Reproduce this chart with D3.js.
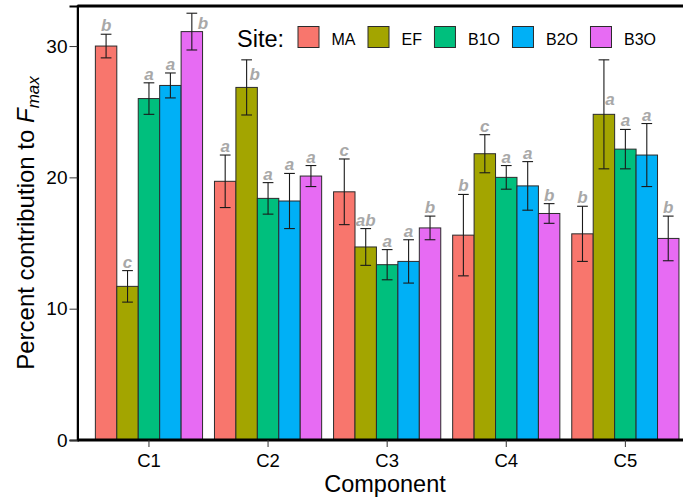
<!DOCTYPE html>
<html>
<head>
<meta charset="utf-8">
<script src="https://cdn.jsdelivr.net/npm/d3@7"></script>
<style>
  body { margin: 0; background: #fff; }
  text { font-family: "Liberation Sans", Arial, sans-serif; }
</style>
</head>
<body>
<svg id="chart"></svg>
<script>
// data
const components = ["C1", "C2", "C3", "C4", "C5"];
const sites = ["MA", "EF", "B1O", "B2O", "B3O"];
const siteColors = ["#F8766D", "#A3A500", "#00BF7D", "#00B0F6", "#E76BF3"];

// mean percent contribution, one row per component (order of sites)
const means = [
  [30.0, 11.7, 26.0, 27.0, 31.1],
  [19.7, 26.85, 18.4, 18.2, 20.1],
  [18.9, 14.7, 13.35, 13.6, 16.15],
  [15.6, 21.8, 20.0, 19.35, 17.25],
  [15.7, 24.8, 22.15, 21.7, 15.35]
];
// standard errors
const errors = [
  [0.9, 1.2, 1.2, 0.95, 1.4],
  [2.0, 2.1, 1.2, 2.1, 0.8],
  [2.5, 1.4, 1.15, 1.65, 0.9],
  [3.1, 1.45, 0.9, 1.85, 0.75],
  [2.1, 4.15, 1.5, 2.4, 1.7]
];
// significance letters
const letters = [
  ["b", "c", "a", "a", "b"],
  ["a", "b", "a", "a", "a"],
  ["c", "ab", "a", "a", "b"],
  ["b", "c", "a", "a", "b"],
  ["b", "a", "a", "a", "b"]
];
const yTicks = [0, 10, 20, 30];

const width = 683, height = 502;
const svg = d3.select("#chart").attr("width", width).attr("height", height);

// panel
const pLeft = 77.5, pTop = 6, pBottom = 440;
const step = 119.1;
const pRight = pLeft + 5.2 * step;

const x = d3.scaleBand()
    .domain(components)
    .range([pLeft, pRight])
    .paddingInner(0.1)
    .paddingOuter(0.15);

const xSite = d3.scaleBand()
    .domain(sites)
    .range([0, x.bandwidth()]);

const y = d3.scaleLinear()
    .domain([0, 33.05])
    .range([pBottom, pTop]);

const color = d3.scaleOrdinal().domain(sites).range(siteColors);

// flatten
const rows = [];
components.forEach((c, i) => {
  sites.forEach((s, j) => {
    rows.push({ comp: c, site: s, mean: means[i][j], se: errors[i][j], letter: letters[i][j] });
  });
});

// bars
svg.append("g").selectAll("rect")
    .data(rows)
    .enter().append("rect")
    .attr("x", d => x(d.comp) + xSite(d.site))
    .attr("y", d => y(d.mean))
    .attr("width", xSite.bandwidth())
    .attr("height", d => y(0) - y(d.mean))
    .attr("fill", d => color(d.site))
    .attr("stroke", "#2b2b2b")
    .attr("stroke-width", 1);

// error bars
const cap = xSite.bandwidth() * 0.25;
const eb = svg.append("g").attr("stroke", "#1a1a1a").attr("stroke-width", 1.1);
rows.forEach(d => {
  const cx = x(d.comp) + xSite(d.site) + xSite.bandwidth() / 2;
  const y1 = y(d.mean + d.se), y2 = y(d.mean - d.se);
  eb.append("line").attr("x1", cx).attr("x2", cx).attr("y1", y1).attr("y2", y2);
  eb.append("line").attr("x1", cx - cap).attr("x2", cx + cap).attr("y1", y1).attr("y2", y1);
  eb.append("line").attr("x1", cx - cap).attr("x2", cx + cap).attr("y1", y2).attr("y2", y2);
});

// letters (a few are shifted in the original)
const nudge = {
  "C1-B3O": { dx: 11, yv: 31.3 },
  "C2-EF": { dx: 8, yv: 27.4 },
  "C5-EF": { dx: 6, yv: 25.5 }
};
svg.append("g").selectAll("text")
    .data(rows)
    .enter().append("text")
    .attr("x", d => {
      const cx = x(d.comp) + xSite(d.site) + xSite.bandwidth() / 2;
      const n = nudge[d.comp + "-" + d.site];
      return n ? cx + n.dx : cx;
    })
    .attr("y", d => {
      const n = nudge[d.comp + "-" + d.site];
      return n ? y(n.yv) : y(d.mean + d.se) - 3;
    })
    .attr("text-anchor", "middle")
    .attr("font-size", 17)
    .attr("font-weight", "bold")
    .attr("font-style", "italic")
    .attr("fill", "#a8a8a8")
    .text(d => d.letter);

// frame
svg.append("rect")
    .attr("x", pLeft).attr("y", pTop)
    .attr("width", pRight - pLeft).attr("height", pBottom - pTop)
    .attr("fill", "none")
    .attr("stroke", "#000")
    .attr("stroke-width", 1.5);
svg.append("line")
    .attr("x1", pLeft).attr("x2", pRight)
    .attr("y1", pBottom).attr("y2", pBottom)
    .attr("stroke", "#000").attr("stroke-width", 3);
svg.append("line")
    .attr("x1", pLeft).attr("x2", pRight)
    .attr("y1", pTop).attr("y2", pTop)
    .attr("stroke", "#000").attr("stroke-width", 3);

// axes
const yAxis = svg.append("g")
    .attr("transform", `translate(${pLeft},0)`)
    .call(d3.axisLeft(y).tickValues(yTicks).tickSize(8).tickPadding(2));
yAxis.select(".domain").attr("stroke", "#000").attr("stroke-width", 2);
yAxis.selectAll(".tick line").attr("stroke", "#333").attr("stroke-width", 1);
yAxis.selectAll(".tick text")
    .attr("font-size", 19)
    .attr("fill", "#000")
    .style("font-family", "'Liberation Sans', Arial, sans-serif");

const xAxis = svg.append("g")
    .attr("transform", `translate(0,${pBottom})`)
    .call(d3.axisBottom(x).tickSize(7).tickPadding(7));
xAxis.select(".domain").remove();
xAxis.selectAll(".tick line").attr("stroke", "#333").attr("stroke-width", 1);
xAxis.selectAll(".tick text")
    .attr("font-size", 18.5)
    .attr("fill", "#000")
    .style("font-family", "'Liberation Sans', Arial, sans-serif");

// axis titles
svg.append("text")
    .attr("x", 385)
    .attr("y", 492)
    .attr("text-anchor", "middle")
    .attr("font-size", 23.5)
    .text("Component");

const yt = svg.append("text")
    .attr("transform", `translate(34,${(pTop + pBottom) / 2}) rotate(-90)`)
    .attr("text-anchor", "middle")
    .attr("font-size", 24);
yt.append("tspan").text("Percent contribution to ");
yt.append("tspan").attr("font-style", "italic").text("F");
yt.append("tspan").attr("font-style", "italic").attr("font-size", 17).attr("dy", 5).text("max");

// legend
const legend = svg.append("g");
legend.append("text")
    .attr("x", 237).attr("y", 46.5)
    .attr("font-size", 23.5)
    .text("Site:");
let lx = 298;
sites.forEach((s, i) => {
  legend.append("rect")
      .attr("x", lx).attr("y", 26.5)
      .attr("width", 21).attr("height", 21)
      .attr("fill", color(s))
      .attr("stroke", "#2b2b2b").attr("stroke-width", 1);
  const t = legend.append("text")
      .attr("x", lx + 33.5).attr("y", 45)
      .attr("font-size", 16)
      .text(s);
  lx += 33.5 + t.node().getComputedTextLength() + 12.5;
});
</script>
</body>
</html>
